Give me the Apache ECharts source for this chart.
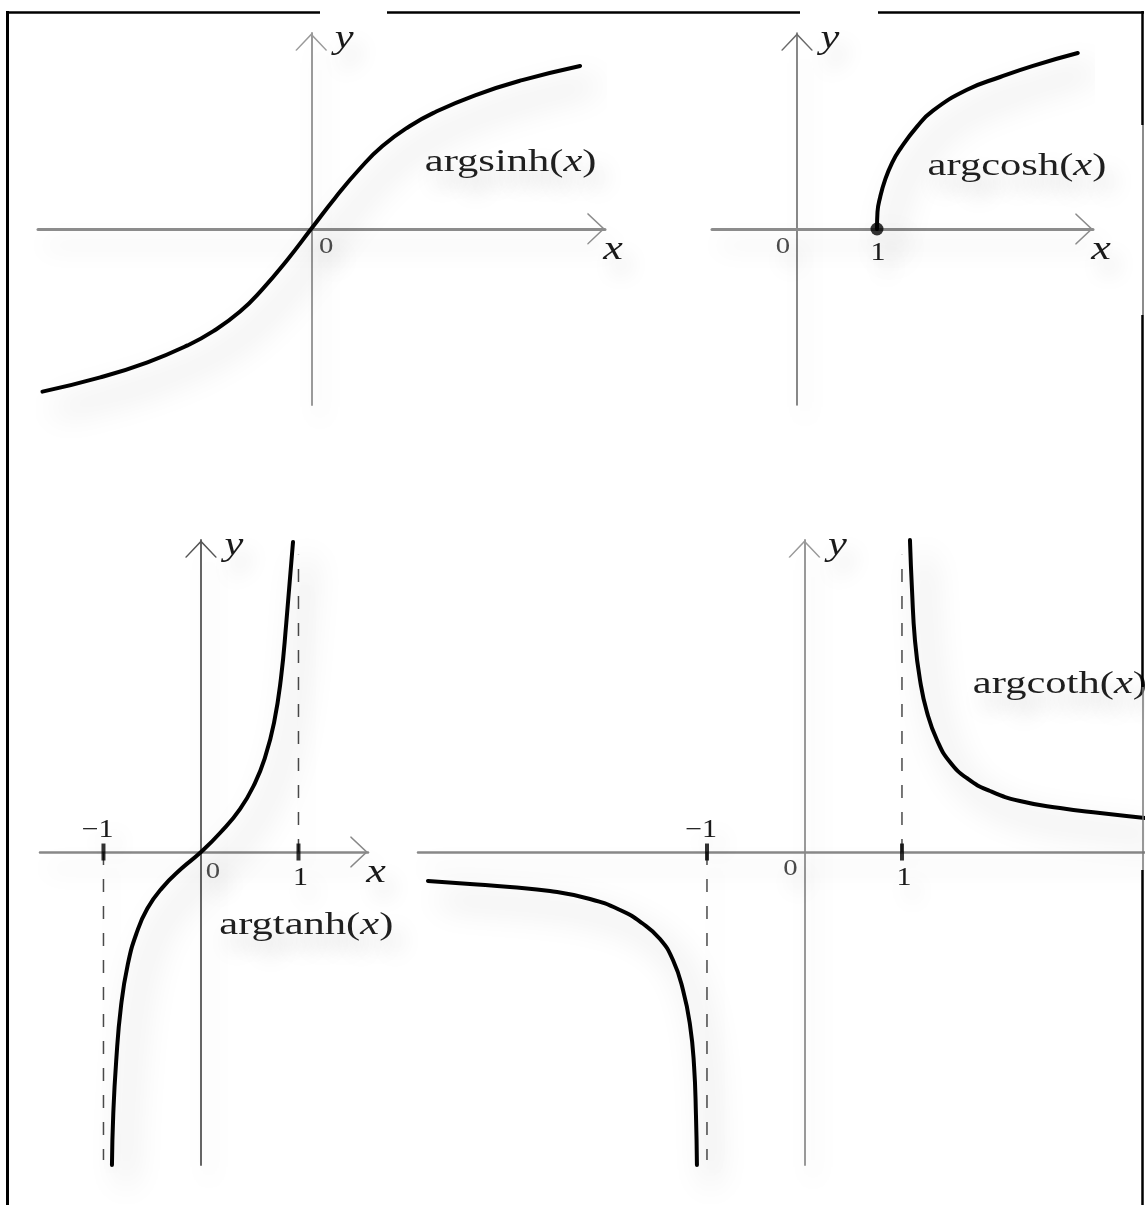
<!DOCTYPE html>
<html>
<head>
<meta charset="utf-8">
<script src="https://cdn.jsdelivr.net/npm/echarts@6/dist/echarts.min.js"></script>
<style>
  html, body { margin: 0; padding: 0; background: #fff; }
  #chart { width: 1145px; height: 1205px; }
</style>
</head>
<body>
<div id="chart"></div>
<script>
// ---- curve samples, [x, y] in each panel's own units ----
const argsinhPts = [
  [-3.02, -1.83], [-2.37, -1.67], [-1.84, -1.50], [-1.39, -1.31], [-1.10, -1.15],
  [-0.80, -0.93], [-0.55, -0.68], [-0.27, -0.35], [0, 0], [0.27, 0.35],
  [0.55, 0.68], [0.80, 0.93], [1.10, 1.15], [1.39, 1.31], [1.84, 1.50],
  [2.37, 1.67], [3.02, 1.83]
];
const argcoshPts = [
  [1.0, 0], [1.006, 0.21], [1.04, 0.40], [1.10, 0.61], [1.19, 0.83], [1.29, 1.0],
  [1.5, 1.28], [1.7, 1.48], [2.125, 1.74], [2.54, 1.90], [2.95, 2.04], [3.51, 2.2]
];
const argtanhPts = [
  [-0.913, -3.21], [-0.90, -2.70], [-0.87, -2.15], [-0.82, -1.58], [-0.75, -1.15],
  [-0.66, -0.83], [-0.55, -0.58], [-0.40, -0.37], [-0.20, -0.17], [0, 0],
  [0.20, 0.20], [0.40, 0.44], [0.55, 0.70], [0.66, 0.98], [0.75, 1.33],
  [0.82, 1.78], [0.875, 2.35], [0.944, 3.18]
];
const argcothRightPts = [
  [1.082, 3.200], [1.103, 2.687], [1.133, 2.174], [1.185, 1.764], [1.256, 1.436],
  [1.359, 1.149], [1.492, 0.923], [1.677, 0.749], [1.903, 0.626], [2.210, 0.523],
  [2.621, 0.451], [3.031, 0.400], [3.492, 0.349]
];
const argcothLeftPts = [
  [-3.862, -0.297], [-3.431, -0.328], [-3.021, -0.359], [-2.610, -0.400], [-2.200, -0.482],
  [-1.892, -0.595], [-1.667, -0.728], [-1.482, -0.892], [-1.349, -1.108], [-1.246, -1.415],
  [-1.174, -1.774], [-1.133, -2.185], [-1.113, -2.697], [-1.103, -3.210]
];

// asymptotes x = 1 (upper half) and x = -1 (lower half)
const asymUpper = [[1, 0], [1, 3.05]];
const asymLower = [[-1, 0], [-1, -3.16]];

// marked points on the x axis
const coshStart = [[1, 0]];
const unitTicks = [-1, 1];
const unitTickLabels = ['\u22121', '1'];
const coshTickLabels = ['1'];

// function names shown on each panel
const functionNames = ['argsinh', 'argcosh', 'argtanh', 'argcoth'];

// ---- layout of the four panels (pixel boxes and axis ranges) ----
const panels = [
  { left: 38,  top: 33,  width: 567, height: 372, x: [-3.07, 3.30],    y: [-1.98, 2.20], xArrow: true,
    xColor: '#8c8c8c', xWidth: 3,   yColor: '#9a9a9a', yWidth: 2 },
  { left: 712, top: 33,  width: 381, height: 372, x: [-1.0625, 3.7],   y: [-2.2, 2.45],  xArrow: true,
    xColor: '#8c8c8c', xWidth: 3,   yColor: '#6a6a6a', yWidth: 1.6 },
  { left: 40,  top: 540, width: 328, height: 625, x: [-1.651, 1.713],  y: [-3.21, 3.2],  xArrow: true,
    xColor: '#888',    xWidth: 2.5, yColor: '#555',    yWidth: 1.8 },
  { left: 418, top: 540, width: 732, height: 625, x: [-3.964, 3.544],  y: [-3.21, 3.2],  xArrow: false,
    xColor: '#888',    xWidth: 2.5, yColor: '#999',    yWidth: 2 }
];

// open chevron arrow head (pointing up, rotated by the axis)
const chevron = 'path://M0,17 L16,0 L32,17 L30.6,17.6 L16,2.2 L1.4,17.6 Z';

const haze = { shadowColor: 'rgba(0,0,0,0.32)', shadowBlur: 32, shadowOffsetX: 14, shadowOffsetY: 18 };
const softHaze = { shadowColor: 'rgba(0,0,0,0.17)', shadowBlur: 24, shadowOffsetX: 8, shadowOffsetY: 16 };

const chart = echarts.init(document.getElementById('chart'), null, { renderer: 'canvas' });

const grid = panels.map(p => ({
  left: p.left, top: p.top, width: p.width, height: p.height,
  outerBoundsMode: 'none', containLabel: false, show: false
}));

const xAxis = panels.map((p, i) => ({
  type: 'value', gridIndex: i, min: p.x[0], max: p.x[1],
  axisLine: {
    show: true, onZero: true,
    symbol: ['none', p.xArrow ? chevron : 'none'],
    symbolSize: [32, 18], symbolOffset: [0, -9],
    lineStyle: Object.assign({ color: p.xColor, width: p.xWidth }, softHaze)
  },
  axisTick: { show: false }, axisLabel: { show: false }, splitLine: { show: false }
}));

const yAxis = panels.map((p, i) => ({
  type: 'value', gridIndex: i, min: p.y[0], max: p.y[1],
  axisLine: {
    show: true, onZero: true,
    symbol: ['none', chevron],
    symbolSize: [32, 18], symbolOffset: [0, -9],
    lineStyle: Object.assign({ color: p.yColor, width: p.yWidth }, softHaze)
  },
  axisTick: { show: false }, axisLabel: { show: false }, splitLine: { show: false }
}));

function curve(i, data) {
  return {
    type: 'line', xAxisIndex: i, yAxisIndex: i, data: data,
    smooth: 0.5, showSymbol: false, silent: true, clip: false, z: 5,
    lineStyle: Object.assign({ color: '#000', width: 4, cap: 'round', join: 'round' }, haze)
  };
}
function dashed(i, data) {
  return {
    type: 'line', xAxisIndex: i, yAxisIndex: i, data: data,
    showSymbol: false, silent: true, clip: false, z: 3,
    lineStyle: Object.assign({ color: '#4a4a4a', width: 1.5, type: [13, 14] }, softHaze)
  };
}
function ticks(i) {
  return {
    type: 'scatter', xAxisIndex: i, yAxisIndex: i,
    data: unitTicks.map(v => [v, 0]),
    symbol: 'rect', symbolSize: [4, 17], silent: true, clip: false, z: 6,
    itemStyle: { color: '#000' }
  };
}

const series = [
  curve(0, argsinhPts),
  curve(1, argcoshPts),
  {
    type: 'scatter', xAxisIndex: 1, yAxisIndex: 1, data: coshStart,
    symbol: 'circle', symbolSize: 13, silent: true, clip: false, z: 6,
    itemStyle: Object.assign({ color: '#000' }, haze)
  },
  curve(2, argtanhPts),
  dashed(2, asymUpper),
  dashed(2, asymLower),
  ticks(2),
  curve(3, argcothRightPts),
  curve(3, argcothLeftPts),
  dashed(3, asymUpper),
  dashed(3, asymLower),
  ticks(3)
];

chart.setOption({
  animation: false,
  backgroundColor: '#fff',
  grid: grid, xAxis: xAxis, yAxis: yAxis, series: series
});

// ---- text and frame ----
const serif = '"Liberation Serif", "DejaVu Serif", serif';
const textHaze = {
  textShadowColor: 'rgba(0,0,0,0.22)', textShadowBlur: 22, textShadowOffsetX: 8, textShadowOffsetY: 14
};

function px(i, pt) {
  return chart.convertToPixel({ gridIndex: i }, pt);
}

function label(pos, text, size, opts) {
  opts = opts || {};
  return {
    type: 'text', x: pos[0], y: pos[1], scaleX: opts.scaleX || 1.3, silent: true, z: 20,
    style: Object.assign({
      text: text, fill: opts.color || '#1a1a1a',
      font: (opts.italic ? 'italic ' : '') + size + 'px ' + serif,
      align: 'center', verticalAlign: 'middle'
    }, textHaze)
  };
}

function funcName(pos, name) {
  return {
    type: 'text', x: pos[0], y: pos[1], scaleX: 1.33, silent: true, z: 20,
    style: Object.assign({
      text: '{r|' + name + '(}{i|x}{r|)}',
      align: 'center', verticalAlign: 'middle',
      rich: {
        r: Object.assign({ font: '32px ' + serif, fill: '#1f1f1f' }, textHaze),
        i: Object.assign({ font: 'italic 32px ' + serif, fill: '#1f1f1f' }, textHaze)
      }
    }, textHaze)
  };
}

function shift(p, dx, dy) { return [p[0] + dx, p[1] + dy]; }

const g = [];

// function names
const namePos = [[2.24, 0.74], [2.75, 0.775], [1.08, -0.75], [2.62, 1.72]];
functionNames.forEach((n, i) => g.push(funcName(px(i, namePos[i]), n)));

// origin labels
const zeroShift = [[15, 18], [-14, 18], [12, 20], [-14, 17]];
panels.forEach((p, i) => {
  g.push(label(shift(px(i, [0, 0]), zeroShift[i][0], zeroShift[i][1]), '0', 23, { color: '#4a4a4a', scaleX: 1.25 }));
});

// tick labels
coshTickLabels.forEach((t, k) => {
  g.push(label(shift(px(1, [1, 0]), 1, 24), t, 25, { scaleX: 1.2 }));
});
[2, 3].forEach(i => {
  unitTicks.forEach((v, k) => {
    const below = v > 0;
    g.push(label(shift(px(i, [v, 0]), below ? 2 : -6, below ? 26 : -22), unitTickLabels[k], 25, { scaleX: 1.2 }));
  });
});

// axis names
panels.forEach((p, i) => {
  const yTip = px(i, [0, p.y[1]]);
  g.push(label(shift(yTip, 33, 6), 'y', 34, { italic: true, scaleX: 1.25 }));
  if (p.xArrow) {
    const xTip = px(i, [p.x[1], 0]);
    g.push(label(shift(xTip, 8, 21), 'x', 34, { italic: true, scaleX: 1.3 }));
  }
});

// frame around the figure
function seg(x1, y1, x2, y2, w, c) {
  return { type: 'line', silent: true, z: 30,
    shape: { x1: x1, y1: y1, x2: x2, y2: y2 },
    style: { stroke: c || '#000', lineWidth: w } };
}
g.push(seg(6, 12.5, 320, 12.5, 2.5));
g.push(seg(387, 12.5, 800, 12.5, 2.5));
g.push(seg(878, 12.5, 1144, 12.5, 2.5));
g.push(seg(7.5, 11, 7.5, 1205, 3));
g.push(seg(1142.5, 11, 1142.5, 125, 2.5));
g.push(seg(1143, 125, 1143, 315, 1.5, '#666'));
g.push(seg(1142.5, 315, 1142.5, 687, 2.5));
g.push(seg(1143, 687, 1143, 870, 1.5, '#777'));
g.push(seg(1142.5, 870, 1142.5, 1205, 2.5));

chart.setOption({ graphic: { elements: g } });
</script>
</body>
</html>
